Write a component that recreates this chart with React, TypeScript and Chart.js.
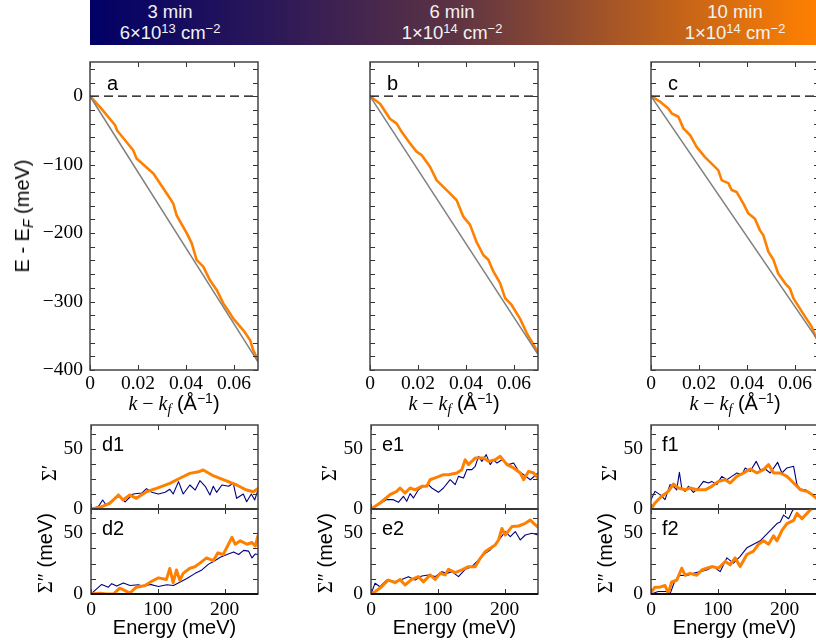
import React, { useEffect, useRef } from 'react';
import { Chart, registerables } from 'chart.js';
Chart.register(...registerables);

const SERIF = '"Liberation Serif", "DejaVu Serif", serif';
const SERIF_CSS = '"Liberation Serif", "DejaVu Serif", serif';
const SANS = '"Liberation Sans", Arial, sans-serif';
const ORANGE = '#ff8000';
const NAVY = '#000080';
const GRAY = '#808080';

// ---------- tick values ----------
const TOP_X_TICKS = [0, 0.02, 0.04, 0.06];
const TOP_Y_TICKS = [-400, -380, -360, -340, -320, -300, -280, -260, -240, -220, -200, -180, -160, -140, -120, -100, -80, -60, -40, -20, 0, 20, 40];
const TOP_Y_LABELS = [-400, -300, -200, -100, 0];
const BOT_X_TICKS = [0, 100, 200];
const BOT_Y_TICKS = [0, 12.5, 25, 37.5, 50, 62.5];
const BOT_Y_LABELS = [0, 50];

// ---------- header ----------
const HEADER_TIMES = ['3 min', '6 min', '10 min'];
const HEADER_MANT = ['6', '1', '1'];
const HEADER_EXP = ['13', '14', '14'];

// ---------- top panels: bare band (gray) ----------
const GRAY_K = [0, 0.07];
const GRAY_A_E = [0, -388];
const GRAY_B_E = [0, -377];
const GRAY_C_E = [0, -359];

// ---------- top panels: measured dispersion (orange) ----------
const A_K = [0, 0.0042, 0.0104, 0.0113, 0.018, 0.0194, 0.0264, 0.0333, 0.0347, 0.0361, 0.0403, 0.0424, 0.0444, 0.0472, 0.05, 0.0528, 0.0556, 0.0583, 0.0597, 0.0639, 0.0667, 0.068, 0.0694, 0.07];
const A_E = [0, -16, -42, -50, -79, -91, -113, -149, -157, -174, -200, -215, -239, -249, -269, -283, -303, -317, -325, -342, -356, -371, -381, -386];

const B_K = [0, 0.0042, 0.0083, 0.0111, 0.0132, 0.0167, 0.0194, 0.0215, 0.025, 0.0278, 0.0313, 0.0333, 0.0361, 0.0389, 0.0417, 0.0444, 0.0472, 0.0493, 0.0514, 0.0542, 0.0563, 0.059, 0.0625, 0.0653, 0.07];
const B_E = [0, -11, -33, -40, -52, -69, -81, -86, -103, -123, -135, -142, -152, -176, -188, -213, -232, -239, -256, -273, -295, -305, -325, -346, -374];

const C_K = [0, 0.0038, 0.0072, 0.0086, 0.0114, 0.0135, 0.0163, 0.019, 0.0225, 0.026, 0.028, 0.0295, 0.0322, 0.0336, 0.0357, 0.0385, 0.0405, 0.0433, 0.0454, 0.0468, 0.0489, 0.051, 0.053, 0.0558, 0.0579, 0.0593, 0.062, 0.0642, 0.067, 0.0683, 0.07];
const C_E = [0, -8, -18, -25, -30, -47, -57, -74, -89, -101, -108, -123, -127, -137, -140, -157, -171, -179, -196, -203, -227, -239, -259, -273, -281, -295, -310, -322, -337, -349, -360];

// ---------- bottom panels: Re Sigma (row 1) ----------
const D1_OR_E = [0, 13.5, 28, 41, 48, 58, 68, 83, 98, 118, 133, 148, 161, 168, 181, 193, 205.6, 218, 233, 243, 250];
const D1_OR_V = [0, 1.4, 4.7, 11.7, 7.5, 11.7, 8.9, 14.4, 17.2, 21.4, 25.6, 29.7, 31, 32.5, 28.3, 25.6, 22.8, 20, 15.8, 14.4, 17];
const D1_NV_E = [0, 11, 17.5, 22.5, 33, 43, 51, 63, 76, 83, 91, 101, 111, 118, 123, 131, 138, 148, 156, 163, 171, 178, 183, 188, 196, 206, 213, 218, 228, 233, 240, 245, 250];
const D1_NV_V = [0, 2, 7.5, 3.3, 7.5, 10.8, 6, 12.5, 13.3, 17, 13.9, 12.5, 13.9, 16.4, 12.5, 22.8, 12.5, 20, 15.8, 23.6, 18.9, 11.7, 19, 13.9, 20, 19, 21.4, 8.9, 12.5, 6, 12.5, 7.5, 15.8];

const E1_OR_E = [0, 13.5, 28.5, 38.5, 43.5, 51, 58.5, 66, 76, 83.5, 88.5, 101, 108.5, 116, 128.5, 136, 141, 146, 156, 168.5, 176, 186, 193.5, 203.5, 213.5, 223.5, 228.5, 236, 243.5, 250];
const E1_OR_V = [0, 5, 12, 14.7, 17.5, 13.3, 17.5, 16, 18.9, 18.9, 24.4, 27, 28.6, 28.6, 30, 32.8, 41, 37, 42.5, 42.5, 39.7, 41, 43.9, 37, 34.2, 30, 24.4, 31.4, 30, 25.8];
const E1_NV_E = [0, 11, 23.5, 33.5, 41, 48.5, 53.5, 58.5, 63.5, 71, 78.5, 86, 91, 101, 108.5, 118.5, 126, 131, 138.5, 143.5, 151, 156, 161, 166, 172.5, 178.5, 183.5, 188.5, 196, 206, 213.5, 221, 228.5, 238.5, 250];
const E1_NV_V = [0, 3.6, 7.8, 7.8, 5.6, 10.6, 6.4, 12.8, 9.2, 16, 18.9, 20.3, 17.5, 13.9, 17.5, 24.4, 20.3, 27.2, 25.8, 32.8, 32.8, 35.6, 43.9, 39.7, 45.3, 37, 41, 38.3, 41, 37, 38.3, 31.4, 28.6, 24.4, 30];

const F1_OR_E = [0, 6, 16, 26, 33.5, 41, 51, 58.5, 68.5, 81, 91, 101, 111, 118.5, 128.5, 138.5, 148.5, 158.5, 168.5, 176, 183.5, 193.5, 203.5, 213.5, 223.5, 233.5, 241, 250];
const F1_OR_V = [0, 5, 10.6, 14.7, 20.8, 17.5, 16, 17.5, 16, 16, 18.9, 23, 24.4, 21.7, 27.2, 30, 33.3, 30, 32.8, 37, 30, 30, 27.2, 21.7, 16, 14.7, 12, 7.8];
const F1_NV_E = [0, 6, 13.5, 21, 28.5, 33.5, 38.5, 42.5, 46, 51, 56, 63.5, 71, 78.5, 86, 91, 98.5, 106, 113.5, 121, 128.5, 136, 141, 148.5, 157.5, 163.5, 171, 178.5, 189.5, 196, 203.5, 213.5, 218.5, 223.5, 231, 238.5, 247, 250];
const F1_NV_V = [7.8, 14.7, 12, 7.8, 20.3, 18.9, 16, 30.6, 17.5, 14.7, 18.9, 13.9, 17.5, 23, 21.7, 23, 20.3, 27.2, 24.4, 27.2, 30, 28.6, 34.2, 31.4, 39.7, 32.8, 33.3, 30, 38.9, 30, 34.2, 35.6, 20.3, 16.7, 16, 13.3, 9.2, 8];

// ---------- bottom panels: Im Sigma (row 2) ----------
const D2_OR_E = [0, 13.5, 23.5, 33.5, 43, 51, 58, 68, 81, 91, 101, 113, 118, 123, 128, 133, 138, 148, 156, 163, 173, 183, 190, 198, 203, 211, 216, 223.5, 233.5, 241, 246, 250];
const D2_OR_V = [0, 0.6, 0, 0, 4.8, 2.8, 0.8, 5.6, 7, 10.5, 13.3, 12, 21, 9.3, 19.8, 11.3, 17, 21.2, 22.6, 25.4, 29.7, 27.4, 33.9, 32.5, 38, 46.6, 41, 43.8, 41, 42.4, 39.5, 48];
const D2_NV_E = [0, 8.5, 16, 26, 31, 38.5, 48.5, 58.5, 71, 78.5, 88.5, 101, 113.5, 123.5, 133.5, 143.5, 156, 166, 176, 183.5, 193.5, 203.5, 213.5, 221, 228.5, 236, 241, 246, 250];
const D2_NV_V = [0, 4.2, 7.9, 5.6, 8.5, 6.5, 9, 7, 7.6, 6.2, 7.9, 6.2, 7.6, 7, 9.9, 12.7, 17, 19.8, 24.6, 26.8, 30.2, 32.5, 34.5, 32.5, 35.9, 35.3, 29.7, 33, 32.5];

const E2_OR_E = [0, 6, 16, 26, 36, 43.5, 51, 61, 71, 78.5, 88.5, 96, 103.5, 111, 116, 126, 136, 146, 156, 163.5, 171, 178.5, 186, 191, 196, 201, 211, 221, 231, 238.5, 243.5, 250];
const E2_OR_V = [0, 1.9, 6, 11.5, 9.3, 12, 7.4, 12, 14.3, 10, 15.7, 12, 17, 15.7, 20.3, 17.6, 19.8, 22.5, 22.5, 29.4, 34.9, 37.6, 40.4, 44.5, 54, 48.6, 55.5, 56, 58.2, 61, 58.2, 55];
const E2_NV_E = [0, 6, 13.5, 23.5, 36, 46, 56, 66, 76, 86, 96, 106, 113.5, 121, 131, 141, 151, 161, 171, 178.5, 186, 193.5, 201, 208.5, 216, 223.5, 231, 241, 250];
const E2_NV_V = [0, 8.8, 6, 11.5, 10.2, 12, 14.3, 11.5, 14.8, 15.7, 14.3, 18.4, 17, 18.4, 14.3, 20.3, 22.5, 28, 33.5, 36.3, 40.4, 45.9, 51.4, 47.3, 51.4, 44.5, 48.6, 50, 48.6];

const F2_OR_E = [0, 6, 13.5, 21, 26, 31, 38.5, 46, 51, 58.5, 68.5, 76, 83.5, 91, 101, 111, 118.5, 126, 133.5, 143.5, 153.5, 161, 168.5, 176, 183.5, 188.5, 196, 203.5, 213.5, 218.5, 226, 233.5, 241, 250];
const F2_OR_V = [1.4, 5.6, 5.6, 7, 0.8, 9.9, 11.3, 21.2, 15.5, 17, 15.5, 19.8, 21.2, 22.6, 21.2, 26.8, 24, 29.7, 22.6, 32.5, 35.3, 41, 43.8, 41, 48, 43.8, 52.3, 58, 60.7, 66.4, 62, 66.4, 70.6, 71];
const F2_NV_E = [0, 11, 23.5, 28.5, 36, 43.5, 53.5, 63.5, 73.5, 83.5, 93.5, 103.5, 113.5, 123.5, 133.5, 143.5, 153.5, 163.5, 171, 181, 188.5, 193.5, 198.5, 206, 211, 216, 225];
const F2_NV_V = [0, 2, 2, 0, 11.3, 15.5, 15, 17, 18.4, 19.8, 22.6, 18.4, 29.7, 25.4, 31, 38, 41, 43.8, 48, 53.7, 58, 59.3, 65, 62, 67.8, 72, 78];

function pts(xs: number[], ys: number[]) {
  return xs.map((x, i) => ({ x, y: ys[i] }));
}

function ds(xs: number[], ys: number[], color: string, width: number) {
  return {
    data: pts(xs, ys),
    borderColor: color,
    borderWidth: width,
    pointRadius: 0,
    fill: false,
    tension: 0,
    borderJoinStyle: 'round',
    borderCapStyle: 'round',
  };
}

type PanelCfg = {
  x0: number; y0: number; x1: number; y1: number;
  padL: number; padR: number; padT: number; padB: number;
  xMin: number; xMax: number; xTicks: number[]; xLabels: boolean; xFmt: (v: number) => string; xPad: number;
  yMin: number; yMax: number; yTicks: number[]; yLabels: number[]; yFmt: (v: number) => string; yPad: number;
  datasets: any[];
  dashedZero?: boolean;
  zeroLine?: boolean;
};

const fmtTopX = (v: number) => (v === 0 ? '0' : v.toFixed(2));
const fmtTopY = (v: number) => (v < 0 ? '\u2212' + Math.abs(v) : String(v));
const fmtBot = (v: number) => String(v);

const framePlugin = {
  id: 'frameTicks',
  afterDatasetsDraw(chart: any, _args: any, opts: any) {
    const { ctx, chartArea } = chart;
    const { left, right, top, bottom } = chartArea;
    const xs = chart.scales.x;
    const ys = chart.scales.y;
    const L = 5;
    ctx.save();
    if (opts.dashedZero) {
      const p = ys.getPixelForValue(0);
      ctx.setLineDash([9, 5]);
      ctx.strokeStyle = '#000';
      ctx.lineWidth = 1.2;
      ctx.beginPath();
      ctx.moveTo(left, p);
      ctx.lineTo(right, p);
      ctx.stroke();
      ctx.setLineDash([]);
    }
    ctx.strokeStyle = '#333';
    ctx.lineWidth = 1;
    ctx.beginPath();
    for (const t of xs.ticks) {
      const p = Math.round(xs.getPixelForValue(t.value)) + 0.5;
      ctx.moveTo(p, bottom);
      ctx.lineTo(p, bottom - L);
      ctx.moveTo(p, top);
      ctx.lineTo(p, top + L);
    }
    for (const t of ys.ticks) {
      const p = Math.round(ys.getPixelForValue(t.value)) + 0.5;
      ctx.moveTo(left, p);
      ctx.lineTo(left + L, p);
      ctx.moveTo(right, p);
      ctx.lineTo(right - L, p);
    }
    ctx.stroke();
    ctx.strokeStyle = '#444';
    ctx.lineWidth = 1.5;
    ctx.strokeRect(left, top, right - left, bottom - top);
    if (opts.zeroLine) {
      const p = ys.getPixelForValue(0);
      ctx.strokeStyle = '#111';
      ctx.lineWidth = 2;
      ctx.beginPath();
      ctx.moveTo(left, p);
      ctx.lineTo(right, p);
      ctx.stroke();
    }
    ctx.restore();
  },
};

function Panel({ cfg }: { cfg: PanelCfg }) {
  const ref = useRef<HTMLCanvasElement>(null);
  const w = cfg.x1 - cfg.x0 + cfg.padL + cfg.padR;
  const h = cfg.y1 - cfg.y0 + cfg.padT + cfg.padB;
  useEffect(() => {
    const canvas = ref.current;
    if (!canvas) return;
    const chart = new Chart(canvas, {
      type: 'line',
      data: { datasets: cfg.datasets },
      options: {
        responsive: false,
        maintainAspectRatio: false,
        animation: false,
        devicePixelRatio: 1,
        events: [],
        layout: { padding: { left: 0, right: cfg.padR, top: cfg.padT, bottom: 0 } },
        plugins: {
          legend: { display: false },
          tooltip: { enabled: false },
          frameTicks: { dashedZero: !!cfg.dashedZero, zeroLine: !!cfg.zeroLine },
        } as any,
        scales: {
          x: {
            type: 'linear',
            min: cfg.xMin,
            max: cfg.xMax,
            grid: { display: false, drawTicks: false },
            border: { display: false },
            afterBuildTicks: (s: any) => {
              s.ticks = cfg.xTicks.map((v) => ({ value: v }));
            },
            afterFit: (s: any) => {
              s.height = cfg.padB;
            },
            ticks: {
              display: cfg.xLabels,
              autoSkip: false,
              maxRotation: 0,
              padding: cfg.xPad,
              color: '#000',
              font: { family: SERIF, size: 19.5 },
              callback: (v: any) => cfg.xFmt(Number(v)),
            },
          },
          y: {
            type: 'linear',
            min: cfg.yMin,
            max: cfg.yMax,
            grid: { display: false, drawTicks: false },
            border: { display: false },
            afterBuildTicks: (s: any) => {
              s.ticks = cfg.yTicks.map((v) => ({ value: v }));
            },
            afterFit: (s: any) => {
              s.width = cfg.padL;
            },
            ticks: {
              display: cfg.yLabels.length > 0,
              autoSkip: false,
              padding: cfg.yPad,
              color: '#000',
              font: { family: SERIF, size: 19.5 },
              callback: (v: any) => (cfg.yLabels.includes(Number(v)) ? cfg.yFmt(Number(v)) : ''),
            },
          },
        },
      } as any,
      plugins: [framePlugin as any],
    });
    return () => chart.destroy();
  }, [cfg]);
  return (
    <canvas
      ref={ref}
      width={w}
      height={h}
      style={{ position: 'absolute', left: cfg.x0 - cfg.padL, top: cfg.y0 - cfg.padT, width: w, height: h }}
    />
  );
}

// layout geometry
const TOP_COLS = [
  { x0: 90, x1: 258 },
  { x0: 370, x1: 538 },
  { x0: 651, x1: 819 },
];
const BOT_COLS = [
  { x0: 91, x1: 258 },
  { x0: 371, x1: 538 },
  { x0: 651, x1: 818 },
];
const TOP_Y0 = 62, TOP_Y1 = 370;
const R1_Y0 = 425, R1_Y1 = 509, R2_Y1 = 594;

const TOP_SETS = [
  [ds(GRAY_K, GRAY_A_E, GRAY, 1.5), ds(A_K, A_E, ORANGE, 2.6)],
  [ds(GRAY_K, GRAY_B_E, GRAY, 1.5), ds(B_K, B_E, ORANGE, 2.6)],
  [ds(GRAY_K, GRAY_C_E, GRAY, 1.5), ds(C_K, C_E, ORANGE, 2.6)],
];
const ROW1_SETS = [
  [ds(D1_OR_E, D1_OR_V, ORANGE, 3), ds(D1_NV_E, D1_NV_V, NAVY, 1.1)],
  [ds(E1_OR_E, E1_OR_V, ORANGE, 3), ds(E1_NV_E, E1_NV_V, NAVY, 1.1)],
  [ds(F1_OR_E, F1_OR_V, ORANGE, 3), ds(F1_NV_E, F1_NV_V, NAVY, 1.1)],
];
const ROW2_SETS = [
  [ds(D2_OR_E, D2_OR_V, ORANGE, 3), ds(D2_NV_E, D2_NV_V, NAVY, 1.1)],
  [ds(E2_OR_E, E2_OR_V, ORANGE, 3), ds(E2_NV_E, E2_NV_V, NAVY, 1.1)],
  [ds(F2_OR_E, F2_OR_V, ORANGE, 3), ds(F2_NV_E, F2_NV_V, NAVY, 1.1)],
];

const PANELS: PanelCfg[] = [];
TOP_COLS.forEach((c, i) => {
  PANELS.push({
    x0: c.x0, x1: c.x1, y0: TOP_Y0, y1: TOP_Y1,
    padL: i === 0 ? 90 : 30, padR: 14, padT: 32, padB: 32,
    xMin: 0, xMax: 0.07, xTicks: TOP_X_TICKS, xLabels: true, xFmt: fmtTopX, xPad: 2,
    yMin: -400, yMax: 50, yTicks: TOP_Y_TICKS, yLabels: i === 0 ? TOP_Y_LABELS : [], yFmt: fmtTopY, yPad: 7,
    datasets: TOP_SETS[i],
    dashedZero: true,
  });
});
BOT_COLS.forEach((c, i) => {
  PANELS.push({
    x0: c.x0, x1: c.x1, y0: R1_Y0, y1: R1_Y1,
    padL: 60, padR: 14, padT: 32, padB: 32,
    xMin: 0, xMax: 250, xTicks: BOT_X_TICKS, xLabels: false, xFmt: fmtBot, xPad: 4,
    yMin: 0, yMax: 70, yTicks: BOT_Y_TICKS, yLabels: BOT_Y_LABELS, yFmt: fmtBot, yPad: 8,
    datasets: ROW1_SETS[i],
    zeroLine: true,
  });
  PANELS.push({
    x0: c.x0, x1: c.x1, y0: R1_Y1, y1: R2_Y1,
    padL: 60, padR: 14, padT: 32, padB: 32,
    xMin: 0, xMax: 250, xTicks: BOT_X_TICKS, xLabels: true, xFmt: fmtBot, xPad: 4,
    yMin: 0, yMax: 70, yTicks: BOT_Y_TICKS, yLabels: BOT_Y_LABELS, yFmt: fmtBot, yPad: 8,
    datasets: ROW2_SETS[i],
    zeroLine: true,
  });
});

const TOP_LETTERS = ['a', 'b', 'c'];
const ROW1_LETTERS = ['d1', 'e1', 'f1'];
const ROW2_LETTERS = ['d2', 'e2', 'f2'];

const supStyle: React.CSSProperties = { fontSize: '0.7em', position: 'relative', top: '-0.5em' };
const subStyle: React.CSSProperties = { fontSize: '0.7em', position: 'relative', top: '0.3em' };

function Abs({ x, y, children, style }: { x: number; y: number; children: React.ReactNode; style?: React.CSSProperties }) {
  return (
    <div style={{ position: 'absolute', left: x, top: y, whiteSpace: 'nowrap', lineHeight: 1, ...style }}>{children}</div>
  );
}

function Centered({ cx, y, children, style }: { cx: number; y: number; children: React.ReactNode; style?: React.CSSProperties }) {
  return (
    <div style={{ position: 'absolute', left: cx - 150, width: 300, top: y, textAlign: 'center', whiteSpace: 'nowrap', lineHeight: 1, ...style }}>{children}</div>
  );
}

function Rotated({ cx, cy, children, style }: { cx: number; cy: number; children: React.ReactNode; style?: React.CSSProperties }) {
  return (
    <div
      style={{
        position: 'absolute', left: cx, top: cy, whiteSpace: 'nowrap', lineHeight: 1,
        transform: 'translate(-50%,-50%) rotate(-90deg)', ...style,
      }}
    >
      {children}
    </div>
  );
}

export default function App() {
  const headerCenters = [170, 452, 735];
  return (
    <div style={{ position: 'absolute', left: 0, top: 0, width: 816, height: 640, overflow: 'hidden', background: '#fff' }}>
      <div
        style={{
          position: 'absolute', left: 90, top: 0, width: 726, height: 45,
          background: 'linear-gradient(to right, #000066 0%, #2c1858 25%, #5c3344 50%, #b05a22 75%, #ff8000 100%)',
        }}
      />
      {headerCenters.map((cx, i) => (
        <React.Fragment key={'h' + i}>
          <Centered cx={cx} y={3} style={{ fontFamily: SANS, fontSize: 18.5, color: '#f2f2f2' }}>{HEADER_TIMES[i]}</Centered>
          <Centered cx={cx} y={24} style={{ fontFamily: SANS, fontSize: 18.5, color: '#f2f2f2' }}>
            {HEADER_MANT[i]}{'\u00d7'}10<span style={supStyle}>{HEADER_EXP[i]}</span> cm<span style={supStyle}>{'\u2212'}2</span>
          </Centered>
        </React.Fragment>
      ))}

      {PANELS.map((p, i) => (
        <Panel key={'p' + i} cfg={p} />
      ))}

      {TOP_COLS.map((c, i) => (
        <React.Fragment key={'t' + i}>
          <Abs x={c.x0 + 17} y={73} style={{ fontFamily: SANS, fontSize: 20 }}>{TOP_LETTERS[i]}</Abs>
          <Centered cx={(c.x0 + c.x1) / 2} y={393} style={{ fontSize: 20 }}>
            <span style={{ fontFamily: SERIF_CSS, fontStyle: 'italic' }}>k</span>
            <span style={{ fontFamily: SERIF_CSS }}> {'\u2212'} </span>
            <span style={{ fontFamily: SERIF_CSS, fontStyle: 'italic' }}>k</span>
            <span style={{ ...subStyle, fontFamily: SERIF_CSS, fontStyle: 'italic' }}>f</span>
            <span style={{ fontFamily: SANS }}> (Å</span>
            <span style={{ ...supStyle, fontFamily: SANS }}>{'\u2212'}1</span>
            <span style={{ fontFamily: SANS }}>)</span>
          </Centered>
        </React.Fragment>
      ))}

      <Rotated cx={22} cy={216} style={{ fontFamily: SANS, fontSize: 20 }}>
        E - E<span style={{ ...subStyle, fontStyle: 'italic' }}>F</span> (meV)
      </Rotated>

      {BOT_COLS.map((c, i) => (
        <React.Fragment key={'b' + i}>
          <Abs x={c.x0 + 11} y={434} style={{ fontFamily: SANS, fontSize: 20 }}>{ROW1_LETTERS[i]}</Abs>
          <Abs x={c.x0 + 11} y={518} style={{ fontFamily: SANS, fontSize: 20 }}>{ROW2_LETTERS[i]}</Abs>
          <Rotated cx={c.x0 - 42} cy={473} style={{ fontFamily: SERIF_CSS, fontSize: 20 }}>{'\u03a3\u2032'}</Rotated>
          <Rotated cx={c.x0 - 46} cy={553} style={{ fontSize: 20 }}>
            <span style={{ fontFamily: SERIF_CSS }}>{'\u03a3\u2033'}</span>
            <span style={{ fontFamily: SANS }}> (meV)</span>
          </Rotated>
          <Centered cx={(c.x0 + c.x1) / 2} y={617} style={{ fontFamily: SANS, fontSize: 20 }}>Energy (meV)</Centered>
        </React.Fragment>
      ))}
    </div>
  );
}
